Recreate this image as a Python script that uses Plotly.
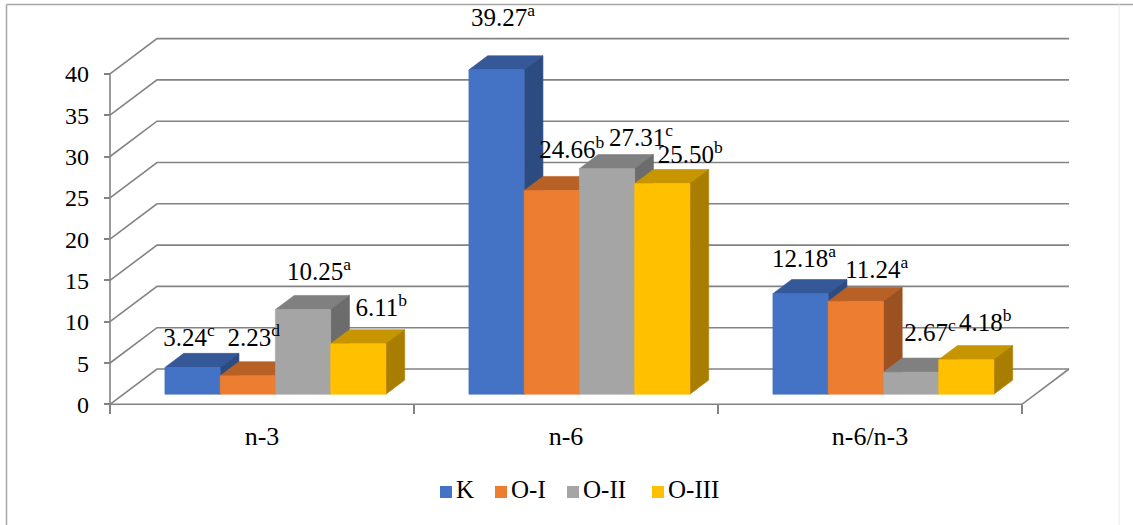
import plotly.graph_objects as go

# ---- data -------------------------------------------------------------
categories = ["n-3", "n-6", "n-6/n-3"]
series_names = ["K", "O-I", "O-II", "O-III"]

k_vals = [3.24, 39.27, 12.18]
o1_vals = [2.23, 24.66, 11.24]
o2_vals = [10.25, 27.31, 2.67]
o3_vals = [6.11, 25.50, 4.18]

# significance letters shown as superscripts
k_sig = ["c", "a", "a"]
o1_sig = ["d", "b", "a"]
o2_sig = ["a", "c", "c"]
o3_sig = ["b", "b", "b"]

y_ticks = [0, 5, 10, 15, 20, 25, 30, 35, 40]

values = [k_vals, o1_vals, o2_vals, o3_vals]
letters = [k_sig, o1_sig, o2_sig, o3_sig]

# ---- styling ----------------------------------------------------------
front_colors = ["#4472C4", "#ED7D31", "#A5A5A5", "#FFC000"]


def shade(hex_color, f):
    h = hex_color.lstrip("#")
    r, g, b = (int(h[i:i + 2], 16) for i in (0, 2, 4))
    return "#%02X%02X%02X" % (int(r * f), int(g * f), int(b * f))


top_colors = [shade(c, 0.78) for c in front_colors]
side_colors = [shade(c, 0.66) for c in front_colors]

GRID = "#838383"
FONT = "Liberation Serif"

W, H = 1133, 525
CAT_PX = 304.0        # pixels per category
X0_PX = 262.0         # pixel of first category centre (front plane)
UNIT_PX = 8.26        # pixels per value unit
Y0_PX = 404.3         # pixel row of value 0 (front plane)

DX = 47.0 / CAT_PX    # full depth offset, x (category units)
DY = 35.3 / UNIT_PX   # full depth offset, y (value units)
F0, F1 = 0.285, 0.685 # bar slab depth range (fraction of floor depth)
BW = 55.25 / CAT_PX   # bar width (category units)
NS = len(series_names)
YMAX = y_ticks[-1]
X_LO, X_HI = -0.5, len(categories) - 0.5

# label nudges in pixels: horizontal shift, baseline height above bar front top
label_dx = [[-3.5, 6.5, 3.5], [6, 20, 21], [16, 34, 19], [23, 28, 19]]
label_dy = [[19.5, 42, 24.7], [28, 30.6, 21.5], [27.6, 20.7, 29], [25.8, 18.7, 26.8]]

# legend layout (pixel positions on the overlay axes)
LEG_SQ_X = [446, 501, 573, 658]
LEG_Y = 492


def to_px_x(x):
    return X0_PX + x * CAT_PX


def to_px_y(y):
    return Y0_PX - y * UNIT_PX


fig = go.Figure()


def line(xs, ys, color=GRID, width=1.6):
    fig.add_trace(go.Scatter(x=xs, y=ys, mode="lines", hoverinfo="skip",
                             line=dict(color=color, width=width), showlegend=False))


def poly(xs, ys, color):
    fig.add_trace(go.Scatter(x=xs + [xs[0]], y=ys + [ys[0]], mode="lines", fill="toself",
                             fillcolor=color, line=dict(color=color, width=0.6),
                             hoverinfo="skip", showlegend=False))


def text_layer(xs, ys, texts, position, size):
    fig.add_trace(go.Scatter(x=xs, y=ys, mode="text", text=texts, textposition=position,
                             xaxis="x2", yaxis="y2",
                             textfont=dict(family=FONT, size=size, color="#000000"),
                             hoverinfo="skip", showlegend=False, cliponaxis=False))


# back wall gridlines with their left-wall diagonals
for v in y_ticks:
    line([X_LO, X_LO + DX, X_HI + DX], [v, v + DY, v + DY])

# floor front and right edges
line([X_LO, X_HI, X_HI + DX], [0, 0, DY])
# front value axis
line([X_LO, X_LO], [0, YMAX])

# bars: drawn left to right so each bar hides its left neighbour's side face
bd_x = (F1 - F0) * DX
bd_y = (F1 - F0) * DY
base = F0 * DY
for i in range(len(categories)):
    for j in range(NS):
        v = values[j][i]
        L = i - NS / 2 * BW + j * BW + F0 * DX
        R = L + BW
        T = base + v
        poly([L, R, R + bd_x, L + bd_x], [T, T, T + bd_y, T + bd_y], top_colors[j])
        poly([R, R + bd_x, R + bd_x, R], [base, base + bd_y, T + bd_y, T], side_colors[j])
        poly([L, R, R, L], [base, base, T, T], front_colors[j])

# value labels with superscript letters
lx, ly, lt = [], [], []
for j in range(NS):
    for i in range(len(categories)):
        v = values[j][i]
        xc = i - NS / 2 * BW + (j + 0.5) * BW + F0 * DX
        lx.append(to_px_x(xc) + label_dx[j][i])
        ly.append(to_px_y(base + v) - label_dy[j][i] - 8)
        lt.append(f"{v:.2f}<sup>{letters[j][i]}</sup>")
text_layer(lx, ly, lt, "middle center", 25)

# value axis tick labels, left of the front axis line
text_layer([to_px_x(X_LO) - 21] * len(y_ticks), [to_px_y(t) + 2.5 for t in y_ticks],
           [str(t) for t in y_ticks], "middle left", 24)

# category labels under the floor
text_layer([to_px_x(i) for i in range(len(categories))], [438] * len(categories),
           categories, "middle center", 26)

# legend: colour squares and series names
fig.add_trace(go.Scatter(x=LEG_SQ_X, y=[LEG_Y] * NS, mode="markers", xaxis="x2", yaxis="y2",
                         marker=dict(symbol="square", size=12, color=front_colors, line=dict(width=0)),
                         hoverinfo="skip", showlegend=False))
text_layer([x + 10 for x in LEG_SQ_X], [LEG_Y] * NS, series_names, "middle right", 25)

x_range = [-X0_PX / CAT_PX, (W - X0_PX) / CAT_PX]
y_range = [(Y0_PX - H) / UNIT_PX, Y0_PX / UNIT_PX]

fig.update_layout(
    width=W, height=H,
    margin=dict(l=0, r=0, t=0, b=0),
    template="none",
    paper_bgcolor="white", plot_bgcolor="white",
    font=dict(family=FONT, size=24, color="#000000"),
    showlegend=False,
    xaxis=dict(range=x_range, anchor="free", position=(H - Y0_PX) / H,
               showgrid=False, zeroline=False, showline=False,
               tickmode="array", tickvals=[k - 0.5 for k in range(len(categories) + 1)],
               ticks="outside", ticklen=9, tickcolor=GRID, tickwidth=1.6,
               showticklabels=False, automargin=False, fixedrange=True),
    yaxis=dict(range=y_range, anchor="free", position=110 / W,
               showgrid=False, zeroline=False, showline=False,
               tickmode="array", tickvals=y_ticks, ticks="outside", ticklen=6,
               tickcolor=GRID, tickwidth=1.6, showticklabels=False,
               automargin=False, fixedrange=True),
    xaxis2=dict(range=[0, W], overlaying="x", visible=False, fixedrange=True),
    yaxis2=dict(range=[H, 0], overlaying="y", visible=False, fixedrange=True),
    shapes=[
        dict(type="line", xref="paper", yref="paper", x0=6.5 / W, x1=1.0, y0=1 - 4.5 / H, y1=1 - 4.5 / H,
             line=dict(color="#A6A6A6", width=1.5)),
        dict(type="line", xref="paper", yref="paper", x0=6.5 / W, x1=6.5 / W, y0=0, y1=1 - 4.5 / H,
             line=dict(color="#A6A6A6", width=1.5)),
        dict(type="line", xref="paper", yref="paper", x0=1119 / W, x1=1119 / W, y0=0, y1=1 - 4.5 / H,
             line=dict(color="#ECECEC", width=1)),
    ],
)

fig.write_html("out.html")
